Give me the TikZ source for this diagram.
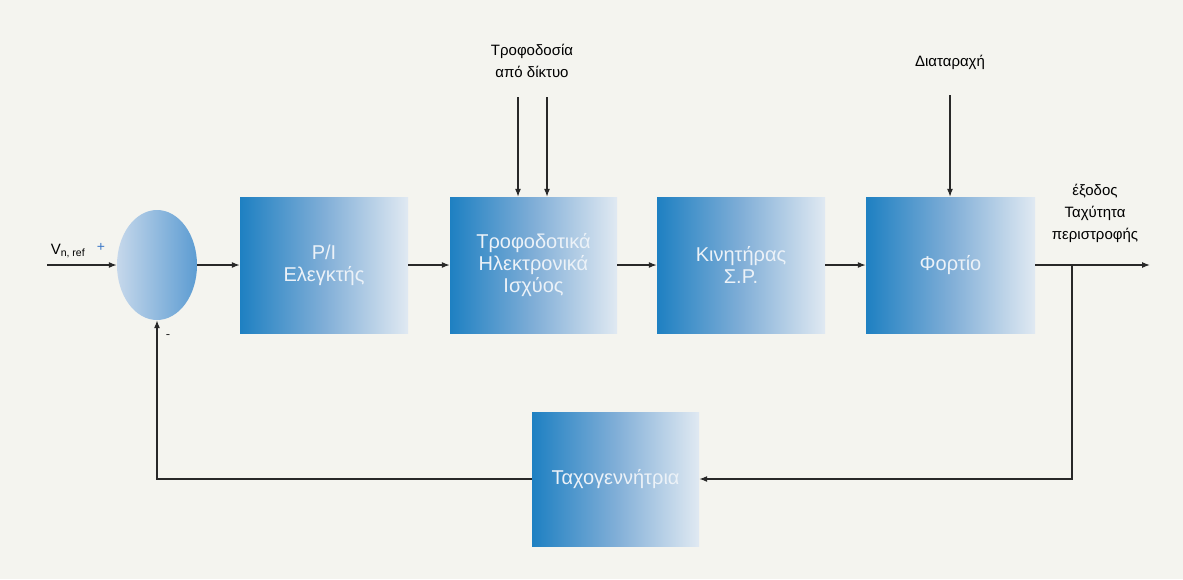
\documentclass[tikz,border=0pt]{standalone}
\usepackage{fontspec}
\setmainfont{Liberation Sans}
\usetikzlibrary{arrows.meta,shapes.geometric}
\definecolor{paper}{RGB}{244,244,239}
\definecolor{boxdark}{RGB}{30,128,194}
\definecolor{boxmid}{RGB}{128,174,215}
\definecolor{boxlight}{RGB}{224,233,242}
\definecolor{sumlight}{RGB}{198,216,235}
\definecolor{sumdark}{RGB}{92,156,210}
\definecolor{wirecol}{RGB}{40,40,40}
\definecolor{signblue}{RGB}{60,120,200}
\definecolor{boxtext}{RGB}{236,242,248}

\begin{document}
\begin{tikzpicture}[x=1pt,y=-1pt,
		block/.style={rectangle, minimum width=168pt, minimum height=136pt, inner sep=0pt,
			left color=boxdark, right color=boxlight, middle color=boxmid,
			text=boxtext, align=center, font=\fontsize{20}{22}\selectfont},
		arrow/.style={draw=wirecol, line width=1.2pt, -{Latex[length=8pt,width=6pt]}},
		tag/.style={text=black, align=center, font=\fontsize{15}{22}\selectfont}]

		% Background
		\useasboundingbox (0,0) rectangle (1183,579);
		\fill[paper] (0,0) rectangle (1183,579);

		% Draw the comparator and the blocks
		\node[ellipse, minimum width=80pt, minimum height=110pt, inner sep=0pt,
			left color=sumlight, right color=sumdark] (sum) at (157,265) {};
		\node[block] (pi) at (324,265) {P/I\\Ελεγκτής};
		\node[block, minimum width=167pt] (power) at (533.5,265) {Τροφοδοτικά\\Ηλεκτρονικά\\Ισχύος};
		\node[block] (motor) at (741,265) {Κινητήρας\\Σ.Ρ.};
		\node[block, minimum width=169pt] (load) at (950.5,265) {Φορτίο};
		\node[block, minimum width=167pt, minimum height=134pt] (tacho) at (615.5,479) {Ταχογεννήτρια};

		% Free ends of the wires
		\coordinate (in) at (47,265);
		\coordinate (out) at (1150,265);
		\coordinate (branch) at (1072,265);
		\coordinate (feed1) at (518,97);
		\coordinate (feed2) at (547,97);
		\coordinate (dist) at (950,95);

		% Draw the texts
		\node[tag] (feedtxt) at (532,61) {Τροφοδοσία\\από δίκτυο};
		\node[tag] (disttxt) at (950,62) {Διαταραχή};
		\node[tag] (outtxt) at (1095,213) {έξοδος\\Ταχύτητα\\περιστροφής};
		\node[tag, font=\fontsize{15}{17}\selectfont] (ref) at (68,251) {V\textsubscript{n, ref}};
		\node[text=signblue, font=\fontsize{14}{16}\selectfont] (plus) at (101,247) {+};
		\node[text=wirecol, font=\fontsize{13}{15}\selectfont] (minus) at (168,337) {-};

		% Draw the forward path
		\draw[arrow] (in) -- (sum.west);
		\draw[arrow] (sum.east) -- (pi.west);
		\draw[arrow] (pi) -- (power);
		\draw[arrow] (power) -- (motor);
		\draw[arrow] (motor) -- (load);
		\draw[arrow] (load) -- (out);

		% Draw the inputs from above
		\draw[arrow] (feed1) -- (feed1 |- power.north);
		\draw[arrow] (feed2) -- (feed2 |- power.north);
		\draw[arrow] (dist) -- (dist |- load.north);

		% Draw the feedback loop
		\draw[arrow] (branch) |- (tacho.east);
		\draw[arrow] (tacho.west) -| (sum.south);

	\end{tikzpicture}
\end{document}
